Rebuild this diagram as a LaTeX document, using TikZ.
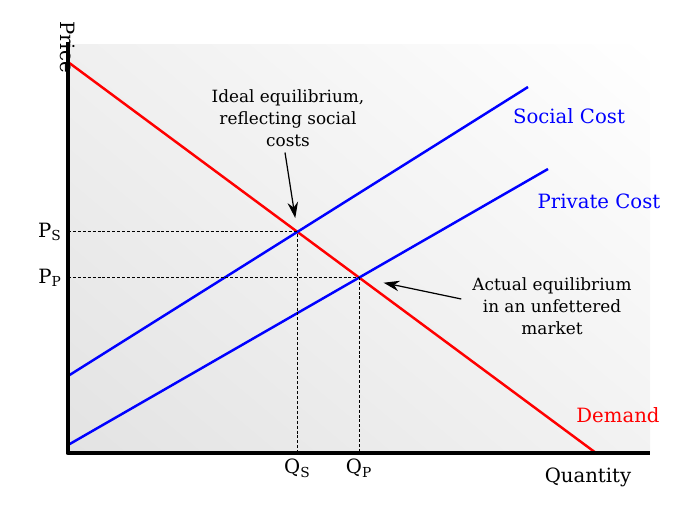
\documentclass[tikz,border=0pt]{standalone}
\usepackage{fontspec}
\setmainfont{DejaVu Serif}
\usetikzlibrary{arrows.meta}
\usetikzlibrary{intersections}
\usetikzlibrary{shadings}

\begin{document}
\begin{tikzpicture}[
				line cap=butt,
				line join=round,
				font=\fontsize{11.2}{13}\selectfont,
				axis/.style={line width=2.8pt},
				curve/.style={line width=1.4pt},
				guide/.style={line width=0.6pt, dash pattern=on 1.7pt off 1.1pt},
				callout/.style={line width=0.7pt, -{Stealth[length=9pt, width=6pt]}},
				note/.style={align=center, font=\fontsize{9.6}{12.4}\selectfont}
				]
				\useasboundingbox (0,0) rectangle (14,10.5);
				
				% Background
				\shade[lower left=black!11, upper left=black!6, lower right=black!5, upper right=white]
					(1.36,1.44) rectangle (13.0,9.6);
				
				\coordinate (O) at (1.36,1.44);
				
				% Curves
				\draw[curve, red, name path=dem] (1.36,9.26) -- (11.92,1.44);
				\draw[curve, blue, name path=soc] (1.36,2.98) -- (10.56,8.76);
				\draw[curve, blue, name path=priv] (1.36,1.60) -- (10.96,7.12);
				
				\path[name intersections={of=dem and soc, by=S}];
				\path[name intersections={of=dem and priv, by=P}];
				
				% Guide lines
				\draw[guide] (O |- S) -- (S) -- (S |- O);
				\draw[guide] (O |- P) -- (P) -- (P |- O);
				
				% Axes
				\draw[axis] (1.36,9.66) -- (O) -- (13.0,1.44);
				
				\node[rotate=-90] (price) at (1.36,9.56) {Price};
				\node (qty) at (11.76,0.96) {Quantity};
				
				% Axis labels
				\node[anchor=east] (ps) at (O |- S) {P\textsubscript{S}};
				\node[anchor=east] (pp) at (O |- P) {P\textsubscript{P}};
				\node[anchor=north] (qs) at (S |- O) {Q\textsubscript{S}};
				\node[anchor=north] (qp) at (P |- O) {Q\textsubscript{P}};
				
				% Curve labels
				\node[blue] (social) at (11.38,8.18) {Social Cost};
				\node[blue] (private) at (11.98,6.48) {Private Cost};
				\node[red] (demand) at (12.36,2.20) {Demand};
				
				% Notes
				\node[note] (ideal) at (5.76,8.14) {Ideal equilibrium,\\reflecting social\\costs};
				\node[note] (actual) at (11.04,4.38) {Actual equilibrium\\in an unfettered\\market};
				
				\draw[callout, shorten >=0.28cm] ([xshift=-0.06cm]ideal.south) -- (S);
				\draw[callout, shorten >=0.5cm] ([xshift=-0.1cm, yshift=0.14cm]actual.west) -- (P);
			\end{tikzpicture}
\end{document}
